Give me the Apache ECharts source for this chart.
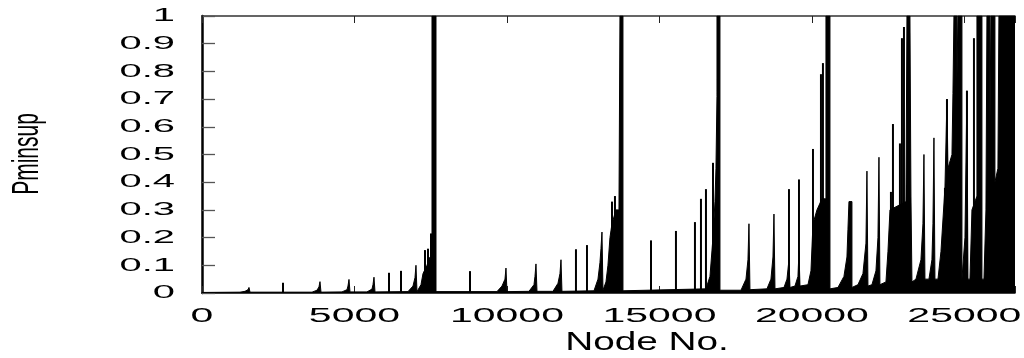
<!doctype html>
<html>
<head>
<meta charset="utf-8">
<title>Pminsup by node</title>
<style>
  html, body { margin: 0; padding: 0; background: #fff; }
  #main { width: 1024px; height: 358px; }
</style>
</head>
<body>
<div id="main"></div>
<script src="https://cdn.jsdelivr.net/npm/echarts@6/dist/echarts.min.js"></script>
<script>
// tick values and their labels
var yTicks = [0, 0.1, 0.2, 0.3, 0.4, 0.5, 0.6, 0.7, 0.8, 0.9, 1];
var yTickLabels = ['0', '0.1', '0.2', '0.3', '0.4', '0.5', '0.6', '0.7', '0.8', '0.9', '1'];
var xTicks = [0, 5000, 10000, 15000, 20000, 25000];
var xTickLabels = ['0', '5000', '10000', '15000', '20000', '25000'];
var xName = 'Node No.';
var yName = 'Pminsup';
var lastNode = 26660;

// outline of the dense part of the curve: [node, Pminsup]
var envelope = [
  [0, 0.002],
  [1246, 0.003], [1410, 0.006], [1508, 0.012], [1541, 0.02], [1574, 0.003],
  [3607, 0.003], [3771, 0.01], [3836, 0.022], [3869, 0.041], [3902, 0.003],
  [4591, 0.004], [4755, 0.012], [4787, 0.025], [4820, 0.049], [4853, 0.004],
  [5410, 0.004], [5574, 0.014], [5607, 0.03], [5640, 0.057], [5673, 0.004],
  [6755, 0.005], [6919, 0.025], [6984, 0.055], [7017, 0.1], [7050, 0.005],
  [7115, 0.005], [7181, 0.03], [7247, 0.07], [7378, 0.1], [7476, 0.13], [7542, 0.13], [7542, 1], [7673, 1], [7673, 0.005],
  [9673, 0.005], [9837, 0.025], [9935, 0.05], [9968, 0.09], [10001, 0.005],
  [10722, 0.006], [10886, 0.03], [10919, 0.06], [10952, 0.105], [10985, 0.006],
  [11509, 0.006], [11673, 0.035], [11739, 0.07], [11772, 0.12], [11804, 0.006],
  [12854, 0.008], [12985, 0.05], [13050, 0.11], [13083, 0.16], [13116, 0.22], [13149, 0.01],
  [13181, 0.01], [13247, 0.04], [13312, 0.1], [13378, 0.2], [13444, 0.25], [13575, 0.3], [13673, 0.3], [13706, 1], [13804, 1], [13804, 0.008],
  [16526, 0.015], [16657, 0.06], [16756, 0.2], [16821, 0.33], [16854, 0.45], [16887, 0.71], [16887, 1], [16985, 1], [16985, 0.01],
  [17674, 0.01], [17838, 0.05], [17903, 0.12], [17936, 0.25], [17969, 0.012],
  [18526, 0.015], [18657, 0.05], [18723, 0.13], [18756, 0.285], [18789, 0.015],
  [19084, 0.02], [19182, 0.05], [19248, 0.12], [19281, 0.02],
  [19444, 0.025], [19543, 0.06], [19576, 0.15], [19609, 0.025],
  [19871, 0.03], [19969, 0.08], [20035, 0.25], [20166, 0.3], [20330, 0.34], [20461, 0.34], [20461, 1], [20592, 1], [20592, 0.015],
  [20854, 0.02], [21051, 0.06], [21149, 0.13], [21182, 0.23], [21215, 0.33], [21313, 0.33], [21313, 0.02],
  [21510, 0.03], [21674, 0.07], [21772, 0.18], [21805, 0.44], [21838, 0.025],
  [21969, 0.03], [22100, 0.08], [22166, 0.2], [22199, 0.49], [22231, 0.03],
  [22428, 0.04], [22494, 0.15], [22560, 0.3], [23084, 0.33], [23117, 1], [23215, 1], [23248, 0.35], [23281, 0.04],
  [23412, 0.05], [23576, 0.12], [23641, 0.25], [23674, 0.5], [23707, 0.05],
  [23838, 0.05], [23936, 0.12], [23969, 0.25], [24002, 0.56], [24035, 0.05],
  [24134, 0.05], [24232, 0.15], [24363, 0.38], [24429, 0.7], [24461, 0.45], [24593, 0.5], [24625, 0.72],
  [24658, 1], [24756, 1], [24756, 0.77], [24789, 0.77], [24789, 1], [24920, 1], [24920, 0.05],
  [24953, 0.05], [25019, 0.2], [25084, 0.73], [25117, 0.05],
  [25183, 0.05], [25248, 0.3], [25412, 0.35], [25412, 1], [25576, 1], [25576, 0.05],
  [25642, 0.05], [25707, 0.3], [25740, 1], [25838, 1], [25838, 0.6], [25871, 0.6], [25871, 1], [26002, 1],
  [26002, 0.4], [26100, 0.45], [26133, 1], [26660, 1]
];

// isolated thin peaks: [node, Pminsup]
var spikes = [
  [2656, 0.037], [6132, 0.073], [6525, 0.08], [7312, 0.155], [7411, 0.16], [7509, 0.215],
  [8788, 0.079], [12263, 0.158], [12624, 0.173], [13444, 0.33], [13542, 0.35],
  [14723, 0.19], [15542, 0.224], [16165, 0.256], [16362, 0.34], [16526, 0.375], [16756, 0.47],
  [19248, 0.375], [19576, 0.41], [20035, 0.52], [20297, 0.79], [20362, 0.83],
  [22592, 0.365], [22658, 0.61], [22887, 0.54], [22953, 0.92], [23019, 0.96],
  [24363, 0.38], [24429, 0.7], [25084, 0.73], [25314, 0.92]
];

var chart = echarts.init(document.getElementById('main'));

var tickStyle = { color: '#222', width: 1 };

chart.setOption({
  animation: false,
  backgroundColor: '#fff',
  grid: { left: 202, right: 9, top: 16, bottom: 65 },
  xAxis: [{
    type: 'value',
    position: 'bottom',
    min: 0, max: lastNode, interval: 5000,
    axisLine: { lineStyle: { color: '#000', width: 1.5 } },
    axisTick: { inside: true, length: 7, lineStyle: tickStyle },
    axisLabel: { show: false },
    splitLine: { show: false }
  }, {
    type: 'value',
    position: 'top',
    min: 0, max: lastNode, interval: 5000,
    axisLine: { lineStyle: { color: '#333', width: 1.5 } },
    axisTick: { inside: true, length: 7, lineStyle: tickStyle },
    axisLabel: { show: false },
    splitLine: { show: false }
  }],
  yAxis: {
    type: 'value',
    min: 0, max: 1, interval: 0.1,
    axisLine: { show: true, lineStyle: { color: '#000', width: 2.5 } },
    axisTick: { inside: true, length: 13, lineStyle: { color: '#555', width: 1.3 } },
    axisLabel: { show: false },
    splitLine: { show: false }
  },
  series: [{
    type: 'line',
    data: envelope,
    symbol: 'none',
    lineStyle: { color: '#000', width: 1 },
    areaStyle: { color: '#000', opacity: 1 }
  }, {
    type: 'bar',
    data: spikes,
    barWidth: 2,
    itemStyle: { color: '#000' }
  }]
});

// gnuplot-style stretched labels
var font = '"Liberation Sans", Arial, sans-serif';
var labels = [];
yTicks.forEach(function (v, i) {
  labels.push({
    type: 'text',
    x: 175,
    y: chart.convertToPixel({ yAxisIndex: 0 }, v),
    scaleX: 2.1,
    style: {
      text: yTickLabels[i], fill: '#000', font: '19px ' + font,
      textAlign: 'right', textVerticalAlign: 'middle'
    }
  });
});
xTicks.forEach(function (v, i) {
  labels.push({
    type: 'text',
    x: chart.convertToPixel({ xAxisIndex: 0 }, v),
    y: 316,
    scaleX: 2.05,
    style: {
      text: xTickLabels[i], fill: '#000', font: '20px ' + font,
      textAlign: 'center', textVerticalAlign: 'middle'
    }
  });
});
labels.push({
  type: 'text',
  x: 647, y: 343,
  scaleX: 1.55,
  style: {
    text: xName, fill: '#000', font: '25px ' + font,
    textAlign: 'center', textVerticalAlign: 'middle'
  }
});
labels.push({
  type: 'text',
  x: 28, y: 154,
  rotation: Math.PI / 2,
  scaleY: 1.8,
  style: {
    text: yName, fill: '#000', font: '21px ' + font,
    textAlign: 'center', textVerticalAlign: 'middle'
  }
});
chart.setOption({ graphic: labels });

window.addEventListener('resize', function () {
  chart.resize();
});
</script>
</body>
</html>
